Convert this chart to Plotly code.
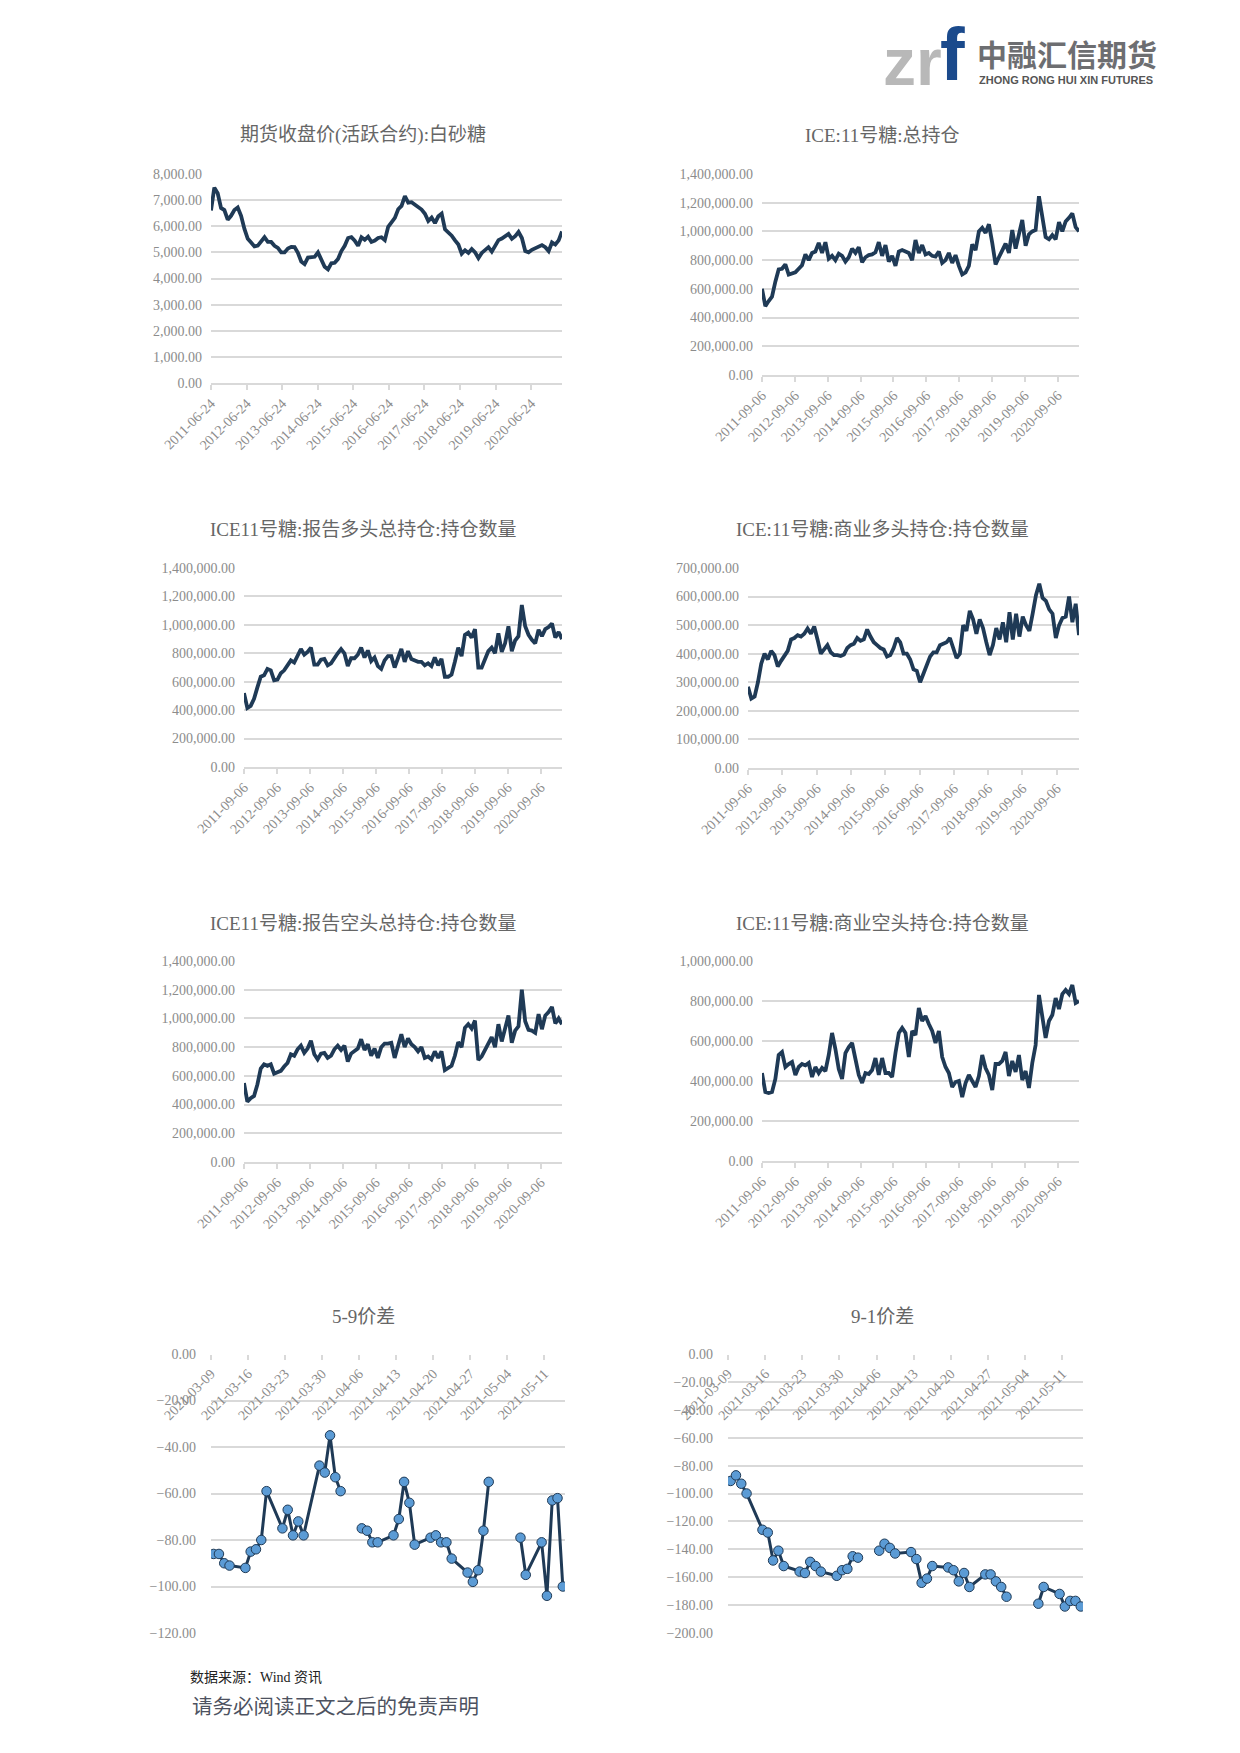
import plotly.graph_objects as go
import pandas as pd

W, H = 1240, 1753
OFF = 8  # page body margin of the html page

# ---------------- data ----------------
sugar_price = [6600, 7480, 7260, 6700, 6620, 6250, 6400, 6620, 6720, 6400,
               5900, 5520, 5380, 5230, 5260, 5450, 5580, 5400, 5400, 5250,
               5170, 5000, 5000, 5150, 5210, 5200, 4980, 4650, 4550, 4800,
               4830, 4830, 5000, 4680, 4450, 4350, 4580, 4600, 4750, 5050,
               5250, 5550, 5580, 5450, 5250, 5580, 5480, 5600, 5400, 5450,
               5550, 5580, 5470, 5980, 6150, 6320, 6650, 6780, 7150, 6900,
               6920, 6830, 6700, 6640, 6480, 6200, 6330, 6120, 6380, 6480,
               5880, 5760, 5640, 5460, 5300, 4950, 5080, 4980, 5130, 5000,
               4780, 4980, 5090, 5200, 5030, 5230, 5470, 5530, 5600, 5710,
               5520, 5620, 5780, 5550, 5050, 5000, 5100, 5150, 5200, 5280,
               5200, 5050, 5380, 5300, 5460, 5800]

ice_total_oi = [600, 480, 515, 545, 650, 735, 740, 770, 700, 705,
                715, 740, 765, 840, 800, 850, 860, 920, 850, 925,
                810, 830, 800, 845, 830, 790, 820, 880, 850, 890,
                785, 820, 835, 840, 855, 925, 830, 905, 790, 830,
                760, 860, 870, 860, 850, 800, 940, 850, 905, 840,
                850, 830, 825, 860, 780, 800, 850, 780, 835, 760,
                700, 715, 760, 910, 870, 1000, 1025, 990, 1050, 920,
                770, 820, 865, 915, 850, 1010, 880, 990, 1080, 900,
                980, 1000, 1010, 1245, 1100, 960, 945, 975, 945, 1065,
                1000, 1070, 1095, 1125, 1030, 1000]

reported_long = [520, 415, 430, 480, 560, 635, 645, 690, 680, 610,
                 615, 660, 680, 710, 750, 735, 780, 830, 790, 810,
                 840, 720, 720, 755, 760, 715, 730, 770, 800, 830,
                 800, 710, 765, 765, 790, 840, 770, 820, 745, 770,
                 710, 690, 750, 780, 780, 700, 760, 830, 740, 815,
                 760, 750, 740, 740, 715, 730, 710, 770, 715, 760,
                 635, 635, 650, 740, 840, 780, 930, 945, 910, 970,
                 700, 700, 755, 815, 840, 800, 940, 810, 870, 990,
                 815, 890, 920, 1140, 990, 930, 895, 870, 965, 920,
                 970, 985, 1010, 910, 950, 900]

commercial_long = [284, 243, 250, 300, 365, 400, 380, 410, 395, 355,
                   375, 390, 410, 450, 455, 465, 460, 470, 488, 470,
                   495, 450, 400, 415, 430, 405, 395, 395, 392, 397,
                   420, 430, 435, 455, 445, 450, 485, 460, 440, 430,
                   420, 415, 390, 395, 420, 455, 440, 400, 400, 380,
                   345, 340, 300, 330, 365, 390, 405, 405, 430, 435,
                   440, 455, 420, 385, 400, 500, 480, 550, 520, 470,
                   520, 490, 440, 395, 430, 490, 450, 510, 440, 545,
                   450, 540, 460, 530, 500, 480, 540, 605, 645, 595,
                   585, 555, 540, 455, 500, 525, 530, 600, 510, 575,
                   465]

reported_short = [550, 420, 445, 460, 540, 650, 680, 670, 680, 615,
                  625, 635, 665, 690, 750, 740, 785, 810, 760, 790,
                  845, 750, 715, 755, 760, 725, 740, 785, 810, 780,
                  810, 700, 755, 770, 790, 855, 780, 820, 740, 790,
                  725, 800, 825, 825, 830, 725, 820, 890, 800, 860,
                  820, 800, 770, 800, 725, 735, 715, 770, 725, 770,
                  640, 655, 670, 740, 835, 800, 935, 960, 930, 985,
                  710, 735, 780, 815, 870, 800, 960, 840, 920, 1020,
                  830, 915, 945, 1200, 980, 920, 915, 900, 1030, 925,
                  1020, 1045, 1080, 965, 1000, 960]

commercial_short = [440, 345, 340, 345, 410, 530, 545, 470, 485, 495,
                    430, 470, 485, 478, 490, 420, 470, 440, 465, 450,
                    530, 640, 560, 460, 410, 540, 570, 590, 510, 430,
                    390, 440, 435, 455, 515, 430, 515, 440, 440, 420,
                    540, 640, 665, 640, 520, 650, 630, 765, 700, 725,
                    685, 650, 590, 650, 520, 470, 440, 370, 395, 400,
                    320, 390, 430, 395, 370, 425, 530, 465, 430, 355,
                    485, 485, 500, 545, 425, 500, 445, 530, 405, 450,
                    365, 490, 580, 830, 730, 615, 700, 730, 815, 760,
                    835, 855, 835, 880, 790, 800]

spread_dates = ["2021-03-09", "2021-03-10", "2021-03-11", "2021-03-12",
                "2021-03-15", "2021-03-16", "2021-03-17", "2021-03-18", "2021-03-19",
                "2021-03-22", "2021-03-23", "2021-03-24", "2021-03-25", "2021-03-26",
                "2021-03-29", "2021-03-30", "2021-03-31", "2021-04-01", "2021-04-02",
                "2021-04-05", "2021-04-06", "2021-04-07", "2021-04-08", "2021-04-09",
                "2021-04-12", "2021-04-13", "2021-04-14", "2021-04-15", "2021-04-16",
                "2021-04-19", "2021-04-20", "2021-04-21", "2021-04-22", "2021-04-23",
                "2021-04-26", "2021-04-27", "2021-04-28", "2021-04-29", "2021-04-30",
                "2021-05-03", "2021-05-04", "2021-05-05", "2021-05-06", "2021-05-07",
                "2021-05-10", "2021-05-11", "2021-05-12", "2021-05-13", "2021-05-14"]

spread_5_9 = [-86, -86, -90, -91,
              -92, -85, -84, -80, -59,
              -75, -67, -78, -72, -78,
              -48, -51, -35, -53, -59,
              None, -75, -76, -81, -81,
              -78, -71, -55, -64, -82,
              -79, -78, -81, -81, -88,
              -94, -98, -93, -76, -55,
              None, None, None, -79, -95,
              -81, -104, -63, -62, -100]

spread_9_1 = [-91, -87, -93, -100,
              -126, -128, -148, -141, -152,
              -156, -157, -149, -152, -156,
              -159, -155, -154, -145, -146,
              None, -141, -136, -139, -143,
              -142, -147, -164, -161, -152,
              -153, -155, -163, -157, -167,
              -158, -158, -163, -167, -174,
              None, None, None, -179, -167,
              -172, -181, -177, -177, -181]

titles = ["期货收盘价(活跃合约):白砂糖", "ICE:11号糖:总持仓",
          "ICE11号糖:报告多头总持仓:持仓数量", "ICE:11号糖:商业多头持仓:持仓数量",
          "ICE11号糖:报告空头总持仓:持仓数量", "ICE:11号糖:商业空头持仓:持仓数量",
          "5-9价差", "9-1价差"]

# ---------------- style ----------------
LINE_COLOR = "#1f3a56"
GRID = "#d9d9d9"
TICK_FONT = dict(family="Liberation Serif, Noto Sans CJK SC", size=14, color="#8c8c8c")
TITLE_FONT = dict(family="Liberation Serif, Noto Sans CJK SC", size=19, color="#666666")


def px(x):
    return (x - OFF) / W


def py(y):
    return 1 - (y - OFF) / H


# panel boxes in pixels: (x0, x1, y0, y1), title center (cx, cy)
panels = [
    dict(box=(211, 562, 174, 383), tc=(363, 135), yr=[0, 8000], dt=1000),
    dict(box=(762, 1079, 174, 375), tc=(882, 135), yr=[0, 1400000], dt=200000),
    dict(box=(244, 562, 568, 767), tc=(363, 530), yr=[0, 1400000], dt=200000),
    dict(box=(748, 1079, 568, 768), tc=(882, 530), yr=[0, 700000], dt=100000),
    dict(box=(244, 562, 961, 1162), tc=(363, 923), yr=[0, 1400000], dt=200000),
    dict(box=(762, 1079, 961, 1161), tc=(882, 923), yr=[0, 1000000], dt=200000),
    dict(box=(211, 565, 1354, 1633), tc=(363, 1316), yr=[-120, 0], dt=20),
    dict(box=(728, 1083, 1354, 1633), tc=(882, 1316), yr=[-200, 0], dt=20),
]

fig = go.Figure()

price_x = pd.date_range("2011-06-24", "2021-05-07", periods=len(sugar_price))
fig.add_trace(go.Scatter(x=price_x, y=sugar_price, mode="lines",
                         line=dict(color=LINE_COLOR, width=3.8), xaxis="x", yaxis="y"))
long_series = [ice_total_oi, reported_long, commercial_long, reported_short, commercial_short]
for i, s in enumerate(long_series, start=2):
    xs = pd.date_range("2011-09-06", "2021-04-30", periods=len(s))
    fig.add_trace(go.Scatter(x=xs, y=[v * 1000 for v in s], mode="lines",
                             line=dict(color=LINE_COLOR, width=3.8),
                             xaxis=f"x{i}", yaxis=f"y{i}"))

sd = pd.to_datetime(spread_dates) + pd.Timedelta(hours=12)
for i, s in ((7, spread_5_9), (8, spread_9_1)):
    fig.add_trace(go.Scatter(x=sd, y=s, mode="lines+markers", connectgaps=False,
                             line=dict(color=LINE_COLOR, width=3),
                             marker=dict(size=9.5, color="#5b9bd5",
                                         line=dict(color="#1f3a56", width=1)),
                             xaxis=f"x{i}", yaxis=f"y{i}"))

layout = dict(width=W, height=H, margin=dict(l=0, r=0, t=0, b=0, pad=0),
              autosize=False, template="none",
              paper_bgcolor="white", plot_bgcolor="white", showlegend=False)

annotations = []
for i, p in enumerate(panels, start=1):
    x0, x1, y0, y1 = p["box"]
    xd = [px(x0), px(x1)]
    yd = [py(y1), py(y0)]
    sx = "" if i == 1 else str(i)
    xa = dict(domain=xd, type="date", showgrid=False, zeroline=False, automargin=False,
              showline=True, linecolor=GRID, linewidth=1.5,
              ticks="outside", ticklen=5, tickcolor=GRID, tickwidth=1.5,
              tickangle=-45, tickformat="%Y-%m-%d", tickfont=TICK_FONT)
    ya = dict(domain=yd, range=p["yr"], dtick=p["dt"], tick0=0, automargin=False,
              showgrid=True, gridcolor=GRID, gridwidth=1.5,
              zeroline=False, showline=False, ticks="",
              tickformat=",.2f", tickfont=TICK_FONT, anchor=f"x{sx}")
    if i == 1:
        xa.update(range=["2011-06-24", "2021-05-07"], tick0="2011-06-24", dtick="M12", anchor="y")
        ya.update(ticklabelstandoff=8)
    elif i <= 6:
        xa.update(range=["2011-09-06", "2021-04-30"], tick0="2011-09-06", dtick="M12", anchor=f"y{sx}")
        ya.update(ticklabelstandoff=8)
    else:
        xa.update(range=["2021-03-09", "2021-05-14 22:00"], tick0="2021-03-09",
                  dtick=7 * 86400000, anchor="free", position=yd[1], side="bottom",
                  showline=False, tickcolor=GRID)
        ya.update(ticklabelstandoff=14)
    layout[f"xaxis{sx}"] = xa
    layout[f"yaxis{sx}"] = ya
    cx, cy = p["tc"]
    annotations.append(dict(text=titles[i - 1], x=px(cx), y=py(cy), xref="paper", yref="paper",
                            xanchor="center", yanchor="middle", showarrow=False, font=TITLE_FONT))

# logo
annotations.append(dict(text="<b>zr</b>", x=px(881), y=py(62), xref="paper", yref="paper",
                        xanchor="left", yanchor="middle", showarrow=False,
                        font=dict(family="Liberation Sans", size=66, color="#b8b8b8")))
annotations.append(dict(text="<b>f</b>", x=px(938), y=py(55), xref="paper", yref="paper",
                        xanchor="left", yanchor="middle", showarrow=False,
                        font=dict(family="Liberation Sans", size=74, color="#1b4a8c")))
annotations.append(dict(text="<b>中融汇信期货</b>", x=px(975), y=py(53), xref="paper", yref="paper",
                        xanchor="left", yanchor="middle", showarrow=False,
                        font=dict(family="Noto Sans CJK SC", size=30, color="#6d6e71")))
annotations.append(dict(text="<b>ZHONG RONG HUI XIN FUTURES</b>", x=px(977), y=py(80),
                        xref="paper", yref="paper", xanchor="left", yanchor="middle", showarrow=False,
                        font=dict(family="Liberation Sans Narrow, Liberation Sans", size=11, color="#555555")))

# footer
annotations.append(dict(text="数据来源：Wind 资讯", x=px(188), y=py(1677), xref="paper", yref="paper",
                        xanchor="left", yanchor="middle", showarrow=False,
                        font=dict(family="Liberation Serif, Noto Sans CJK SC", size=14, color="#222222")))
annotations.append(dict(text="请务必阅读正文之后的免责声明", x=px(190), y=py(1705), xref="paper",
                        yref="paper", xanchor="left", yanchor="middle", showarrow=False,
                        font=dict(family="Noto Sans CJK SC", size=20.5, color="#4d5260")))

layout["annotations"] = annotations
fig.update_layout(**layout)
fig.write_html("out.html")
